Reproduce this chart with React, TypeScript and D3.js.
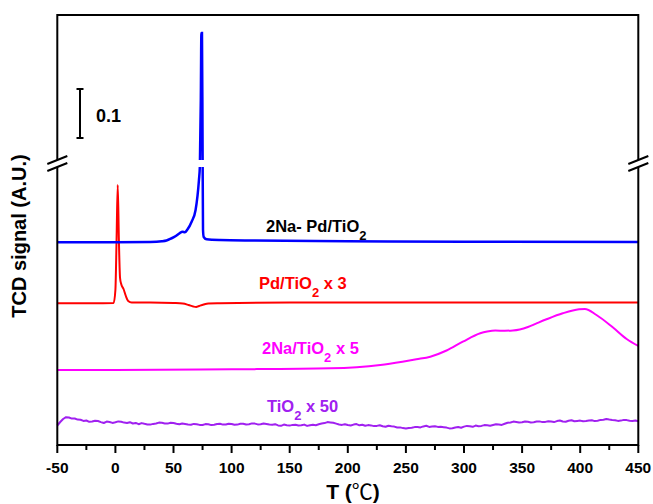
import React from 'react';
import * as d3 from 'd3';

const W = 653;
const H = 504;

const X_TICKS = [-50, 0, 50, 100, 150, 200, 250, 300, 350, 400, 450];
const X_MINOR = [-25, 25, 75, 125, 175, 225, 275, 325, 375, 425];

// [T (°C), TCD signal (a.u., offset stacked)]
const BLUE: [number, number][] = [
  [-50, 202.7], [0, 202.7], [30, 203], [40, 203.7], [44, 204.5], [48, 206.5], [52, 209],
  [55, 211.5], [57.8, 213.3], [59.8, 212.7], [62, 215.5], [65.6, 223.3], [69, 235],
  [71.9, 265], [72.7, 279], [73.5, 345], [74.0, 412], [74.5, 412], [75.0, 305], [75.4, 215],
  [76, 208], [78.5, 205.7], [90, 205], [120, 204.5], [200, 203.8], [300, 203.3], [450, 203],
];

const RED: [number, number][] = [
  [-50, 141.7], [-20, 141.7], [-1.5, 142], [0, 155], [1, 205], [2, 260], [3, 205], [4, 167],
  [5, 161], [7, 156], [9, 149], [11, 144], [14, 142.5], [30, 142.5], [50, 142], [58, 141.5],
  [63, 140], [67, 138.5], [69.5, 138], [72, 139], [76, 140.5], [80, 141.5], [90, 141.8],
  [150, 142.5], [250, 142.5], [350, 142.5], [450, 142.5],
];

const MAGENTA: [number, number][] = [
  [-50, 75], [0, 75], [100, 75.7], [185, 76.7], [228, 80], [247, 83.3], [259, 85.7],
  [271, 88.3], [285, 94.5], [299, 103.3], [314, 111.7], [320, 113.4], [327, 114.4],
  [335, 114.3], [342, 114.6], [348, 115.6], [355, 118], [362, 121.4], [371, 125.7],
  [385, 131.7], [399, 135.7], [404, 136], [414, 130], [428, 117.7], [440, 106], [450, 99],
];

const PURPLE_T = d3.range(-50, 450.1, 2.5);
const PURPLE_V = [
  19.5, 23, 26, 27.8, 27.5, 26.4, 26.5, 25.4, 25.2, 24.1, 24.5, 23.2, 23.5, 24.3, 24, 22.9, 22, 23.4, 23, 22.1,
  22.7, 23.6, 23.2, 22.4, 22, 22.8, 21.5, 22.1, 20.8, 21.9, 21.2, 20.6, 20.4, 21.1, 21.5, 22.4, 22.2, 21.6, 21.4, 22.3,
  22, 21.2, 20.7, 21.5, 21, 20.5, 20.2, 21.1, 20.8, 20.1, 20, 20.9, 20.7, 19.9, 20.3, 21, 21.2, 20.4, 20.5, 21.3,
  21, 20.2, 20.4, 21.2, 21.3, 20.5, 20.8, 21.6, 21.4, 20.6, 20.7, 21.5, 21.1, 20.5, 20.2, 20.8, 19.6, 19.2, 20.4, 19.8,
  19.4, 20.1, 20.2, 19.5, 19.7, 20.4, 19.1, 19.8, 20.3, 19.8, 20.7, 21.5, 21.9, 22.9, 22.6, 22.2, 21.4, 20.5, 20.1, 20.8,
  20, 19.5, 20.4, 20.9, 19.7, 20.3, 19.2, 19.9, 19.6, 18.9, 19.1, 19.8, 18.7, 18.2, 19.3, 18.7, 18.4, 17.5, 17.6, 16.9,
  16.4, 16.9, 17.2, 17.9, 18, 17.6, 18.6, 19.2, 18.1, 18.5, 18.8, 18.1, 18.2, 17.8, 17.4, 16.6, 16.8, 17.5, 17.9, 17.3,
  18.4, 19.1, 18.8, 18.2, 19.4, 18.8, 19.1, 19.9, 19.7, 19.3, 20, 20.7, 20.4, 20.1, 21.2, 22.3, 22.5, 23.4, 23.1, 22.5,
  22.7, 23.5, 23.2, 22.6, 22.8, 23.5, 23.6, 22.9, 23.1, 23.8, 23.4, 22.9, 23.9, 24.5, 23.5, 23.2, 24.2, 24.8, 23.8, 24.1,
  24.4, 23.7, 24, 24.6, 24.7, 23.9, 24.3, 25.1, 25.2, 26, 25.5, 25.1, 24.8, 24.1, 24.4, 25.1, 24.9, 24.2, 24, 24.5,
  23.8,
];
const PURPLE: [number, number][] = PURPLE_T.map((t, i) => [t, PURPLE_V[i]]);

const BREAK_HI = 285;
const BREAK_LO = 278;
const SCALE_BAR = [307, 356];

const FONT = "'Liberation Sans', Arial, sans-serif";

export default function App() {
  const x = d3.scaleLinear().domain([-50, 450]).range([57.3, 638.3]);
  const y = d3.scaleLinear().domain([0, 430]).range([445, 15]);
  const x0 = x(-50), x1 = x(450), yb = y(0), yt = y(430);

  const smooth = d3.line<[number, number]>().x(d => x(d[0])).y(d => y(d[1])).curve(d3.curveMonotoneX);
  const lin = d3.line<[number, number]>().x(d => x(d[0])).y(d => y(d[1]));

  const bhy = y(BREAK_HI), bly = y(BREAK_LO);
  const slash = (cx: number, cy: number) => `M${cx - 10},${cy + 4}L${cx + 10},${cy - 4}`;

  const sbx = 80;
  const sb0 = y(SCALE_BAR[0]), sb1 = y(SCALE_BAR[1]);

  return (
    <svg width={W} height={H} style={{ position: 'absolute', left: 0, top: 0, background: '#fff' }}
      fontFamily={FONT}>
      <rect x={0} y={0} width={W} height={H} fill="#fff" />
      {/* data */}
      <path d={lin(PURPLE) || ''} fill="none" stroke="#A020F0" strokeWidth={2} strokeLinejoin="round" />
      <path d={smooth(MAGENTA) || ''} fill="none" stroke="#FF00FF" strokeWidth={2} />
      <path d={smooth(RED) || ''} fill="none" stroke="#FF0000" strokeWidth={2} />
      <path d={smooth(BLUE) || ''} fill="none" stroke="#0000FF" strokeWidth={2.5} />

      {/* frame */}
      <path d={`M${x0},${yb}V${yt}H${x1}V${yb}Z`} fill="none" stroke="#000" strokeWidth={2} />

      {/* break */}
      <rect x={50} y={bhy} width={595} height={bly - bhy} fill="#fff" />
      {[x0, x1].map((ax, i) => (
        <g key={i} stroke="#000" strokeWidth={2}>
          <path d={slash(ax, bhy)} />
          <path d={slash(ax, bly)} />
        </g>
      ))}

      {/* x ticks */}
      {X_TICKS.map(t => (
        <g key={t}>
          <line x1={x(t)} x2={x(t)} y1={yb} y2={yb + 8} stroke="#000" strokeWidth={2} />
          <text x={x(t)} y={473} textAnchor="middle" fontSize={15.5} fontWeight="bold">{t}</text>
        </g>
      ))}
      {X_MINOR.map(t => (
        <line key={t} x1={x(t)} x2={x(t)} y1={yb} y2={yb + 5} stroke="#000" strokeWidth={2} />
      ))}

      {/* axis titles */}
      <text x={353} y={499} textAnchor="middle" fontSize={21} fontWeight="bold">
        T (<tspan fontFamily="'Noto Sans CJK SC', 'DejaVu Sans', sans-serif" fontWeight="normal">℃</tspan>)
      </text>
      <text transform="translate(26,236) rotate(-90)" textAnchor="middle" fontSize={20} fontWeight="bold">
        TCD signal (A.U.)
      </text>

      {/* scale bar */}
      <g stroke="#000" strokeWidth={2}>
        <line x1={sbx} x2={sbx} y1={sb0} y2={sb1} />
        <line x1={sbx - 3.5} x2={sbx + 3.5} y1={sb0} y2={sb0} />
        <line x1={sbx - 3.5} x2={sbx + 3.5} y1={sb1} y2={sb1} />
      </g>
      <text x={96} y={121.5} fontSize={18} fontWeight="bold">0.1</text>

      {/* series labels */}
      <text x={266} y={232.3} fontSize={16.5} fontWeight="bold" fill="#000">
        2Na- Pd/TiO<tspan dy={8} fontSize={13}>2</tspan>
      </text>
      <text x={259} y={289} fontSize={16.5} fontWeight="bold" fill="#FF0000">
        Pd/TiO<tspan dy={8} fontSize={13}>2</tspan><tspan dy={-8}> x 3</tspan>
      </text>
      <text x={262} y={354} fontSize={16.5} fontWeight="bold" fill="#FF00FF">
        2Na/TiO<tspan dy={8} fontSize={13}>2</tspan><tspan dy={-8}> x 5</tspan>
      </text>
      <text x={267} y={412} fontSize={16.5} fontWeight="bold" fill="#A020F0">
        TiO<tspan dy={8} fontSize={13}>2</tspan><tspan dy={-8}> x 50</tspan>
      </text>
    </svg>
  );
}
